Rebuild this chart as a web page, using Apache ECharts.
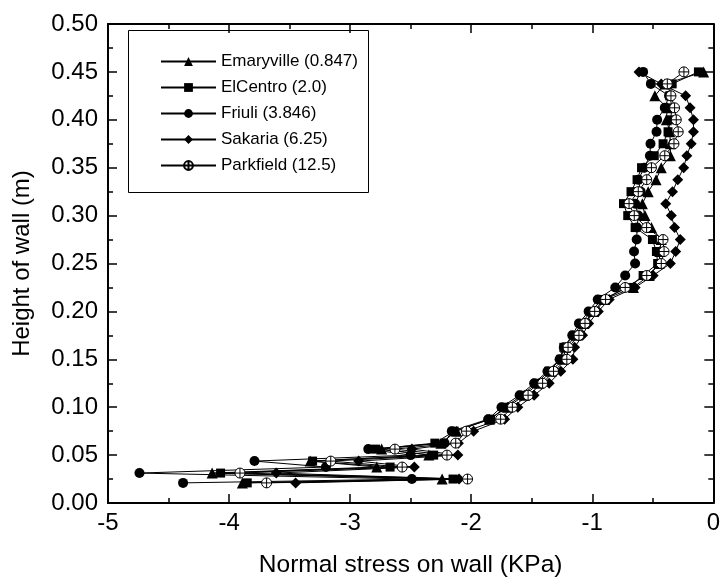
<!DOCTYPE html>
<html>
<head>
<meta charset="utf-8">
<script src="https://cdn.jsdelivr.net/npm/echarts@6/dist/echarts.min.js"></script>
<style>html,body{margin:0;padding:0;background:#fff;}#c{width:723px;height:583px;}</style>
</head>
<body>
<div id="c"></div>
<script>
// Heights of measurement levels (m)
var heights = [0.45, 0.4375, 0.425, 0.4125, 0.40, 0.3875, 0.375, 0.3625, 0.35, 0.3375,
  0.325, 0.3125, 0.30, 0.2875, 0.275, 0.2625, 0.25, 0.2375, 0.225, 0.2125,
  0.2, 0.1875, 0.175, 0.1625, 0.15, 0.1375, 0.125, 0.1125, 0.1, 0.0875,
  0.075, 0.0625, 0.05625, 0.05, 0.04375, 0.0375, 0.03125, 0.025, 0.021];

var seriesNames = ["Emaryville (0.847)", "ElCentro (2.0)", "Friuli (3.846)", "Sakaria (6.25)", "Parkfield (12.5)"];

var emaryville = [-0.08, -0.40, -0.483, -0.38, -0.388, -0.36, -0.355, -0.355, -0.43, -0.473,
  -0.538, -0.586, -0.565, -0.511, -0.43, -0.442, -0.447, -0.53, -0.66, -0.90,
  -0.99, -1.07, -1.13, -1.22, -1.24, -1.34, -1.44, -1.56, -1.70, -1.85,
  -2.12, -2.25, -2.74, -2.35, -3.33, -2.78, -4.14, -2.24, -3.89];

var elcentro = [-0.123, -0.34, -0.36, -0.34, -0.355, -0.374, -0.415, -0.488, -0.593, -0.63,
  -0.68, -0.742, -0.707, -0.646, -0.503, -0.47, -0.46, -0.58, -0.70, -0.92,
  -1.01, -1.09, -1.15, -1.235, -1.26, -1.36, -1.46, -1.58, -1.72, -1.84,
  -2.14, -2.30, -2.79, -2.31, -3.31, -2.67, -4.07, -2.15, -3.85];

var friuli = [-0.58, -0.516, -0.366, -0.401, -0.464, -0.469, -0.519, -0.524, -0.57, -0.62,
  -0.60, -0.646, -0.62, -0.63, -0.633, -0.655, -0.646, -0.728, -0.81, -0.955,
  -1.03, -1.11, -1.165, -1.235, -1.27, -1.37, -1.48, -1.60, -1.75, -1.86,
  -2.16, -2.22, -2.85, -2.50, -3.79, -3.20, -4.74, -2.49, -4.38];

var sakaria = [-0.614, -0.43, -0.229, -0.192, -0.164, -0.164, -0.183, -0.219, -0.245, -0.294,
  -0.337, -0.393, -0.347, -0.32, -0.273, -0.311, -0.355, -0.497, -0.646, -0.86,
  -0.95, -1.03, -1.08, -1.146, -1.16, -1.26, -1.356, -1.48, -1.615, -1.724,
  -1.98, -2.106, -2.49, -2.11, -2.93, -2.47, -3.61, -2.10, -3.45];

var parkfield = [-0.243, -0.38, -0.35, -0.32, -0.306, -0.29, -0.325, -0.401, -0.511, -0.55,
  -0.62, -0.696, -0.653, -0.551, -0.415, -0.407, -0.43, -0.55, -0.728, -0.89,
  -0.98, -1.06, -1.11, -1.20, -1.21, -1.32, -1.41, -1.53, -1.66, -1.757,
  -2.04, -2.128, -2.63, -2.20, -3.16, -2.57, -3.91, -2.03, -3.69];

var xTicks = [-5, -4, -3, -2, -1, 0];
var yTicks = [0.00, 0.05, 0.10, 0.15, 0.20, 0.25, 0.30, 0.35, 0.40, 0.45, 0.50];

var FONT = '"Liberation Sans", Arial, Helvetica, sans-serif';
var oplus = 'path://M0,-10A10,10,0,1,1,0,10A10,10,0,1,1,0,-10ZM-10,0L10,0M0,-10L0,10';

function pairs(xs) {
  return xs.map(function (x, i) { return [x, heights[i]]; });
}

var valueSets = [emaryville, elcentro, friuli, sakaria, parkfield];
var symbols = ['triangle', 'rect', 'circle', 'diamond', oplus];
var sizes = [11, 9, 10, 11, 10];

var series = valueSets.map(function (vals, k) {
  var hollow = k === 4;
  return {
    name: seriesNames[k],
    type: 'line',
    xAxisIndex: 0,
    yAxisIndex: 0,
    data: pairs(vals),
    symbol: symbols[k],
    symbolSize: sizes[k],
    showAllSymbol: true,
    lineStyle: { color: '#000', width: 1 },
    itemStyle: hollow ? { color: '#fff', borderColor: '#000', borderWidth: 1 } : { color: '#000', borderWidth: 0 },
    emphasis: { disabled: true },
    animation: false,
    z: 3 + k
  };
});

var axisCommon = {
  axisLine: { show: true, onZero: false, lineStyle: { color: '#000', width: 2 } },
  axisTick: { show: true, inside: true, length: 9, lineStyle: { color: '#000', width: 1.5 } },
  minorTick: { show: true, splitNumber: 2, length: 5, lineStyle: { color: '#000', width: 1.5 } },
  splitLine: { show: false }
};

var chart = echarts.init(document.getElementById('c'), null, { renderer: 'canvas' });
chart.setOption({
  backgroundColor: '#fff',
  animation: false,
  grid: { left: 108, right: 4, top: 24, bottom: 78, containLabel: false },
  legend: {
    orient: 'vertical',
    left: 155,
    top: 48,
    itemWidth: 55,
    itemHeight: 11,
    itemGap: 9,
    data: seriesNames,
    textStyle: { fontFamily: FONT, fontSize: 17, color: '#000' },
    selectedMode: false
  },
  graphic: [{
    type: 'rect',
    shape: { x: 128.5, y: 30.5, width: 240, height: 162 },
    style: { fill: 'none', stroke: '#000', lineWidth: 1 },
    z: 10
  }],
  xAxis: [
    Object.assign({
      type: 'value', min: -5, max: 0, interval: 1, position: 'bottom',
      name: 'Normal stress on wall (KPa)', nameLocation: 'middle', nameGap: 50,
      nameTextStyle: { fontFamily: FONT, fontSize: 24.5, color: '#000' },
      axisLabel: { show: true, fontFamily: FONT, fontSize: 24, color: '#000', margin: 8,
        formatter: function (v) { return xTicks.indexOf(v) >= 0 ? String(v) : ''; } }
    }, axisCommon),
    Object.assign({
      type: 'value', min: -5, max: 0, interval: 1, position: 'top',
      axisLabel: { show: false }
    }, axisCommon)
  ],
  yAxis: [
    Object.assign({
      type: 'value', min: 0, max: 0.5, interval: 0.05, position: 'left',
      name: 'Height of wall (m)', nameLocation: 'middle', nameGap: 74,
      nameTextStyle: { fontFamily: FONT, fontSize: 24, color: '#000' },
      axisLabel: { show: true, fontFamily: FONT, fontSize: 24, color: '#000', margin: 10,
        formatter: function (v) { return v.toFixed(2); } }
    }, axisCommon),
    Object.assign({
      type: 'value', min: 0, max: 0.5, interval: 0.05, position: 'right',
      axisLabel: { show: false }
    }, axisCommon)
  ],
  series: series
});
</script>
</body>
</html>
